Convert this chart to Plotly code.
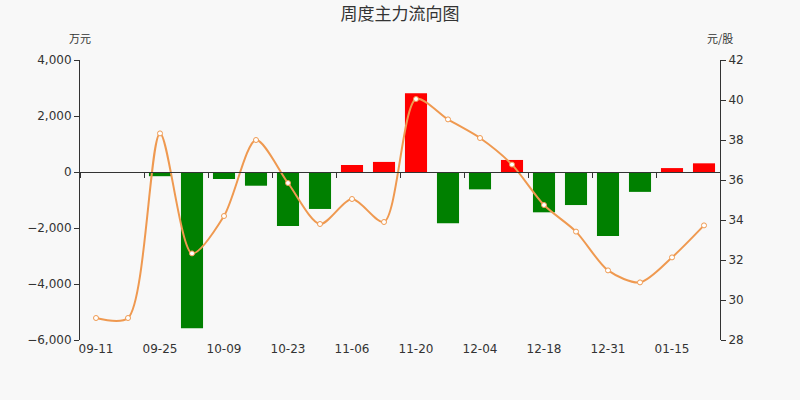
import plotly.graph_objects as go

# weekly main-force net flow (万元) and close price (元/股)
weeks = ["09-11", "09-18", "09-25", "10-02", "10-09", "10-16", "10-23", "10-30",
         "11-06", "11-13", "11-20", "11-27", "12-04", "12-11", "12-18", "12-25",
         "12-31", "01-08", "01-15", "01-22"]
net_flow = [0, 0, -150, -5580, -250, -490, -1930, -1320,
            250, 360, 2810, -1830, -620, 430, -1440, -1180,
            -2290, -710, 140, 310]
price = [29.1, 29.1, 38.33, 32.33, 34.2, 38.0, 35.85, 33.8,
         35.05, 33.9, 40.05, 39.03, 38.1, 36.77, 34.75, 33.42,
         31.48, 30.88, 32.13, 33.73]

x = list(range(len(weeks)))
bar_colors = ["#FF0000" if v > 0 else "#008000" for v in net_flow]
font = "DejaVu Sans, sans-serif"
cjk = "Noto Sans CJK SC, " + font
txt = "#333333"

fig = go.Figure()

fig.add_trace(go.Bar(x=x, y=net_flow, marker=dict(color=bar_colors, line=dict(width=0)),
                     name="主力净流入", yaxis="y"))

fig.add_trace(go.Scatter(x=x, y=price, mode="lines+markers", yaxis="y2", name="股价",
                         line=dict(color="#EF9950", width=2, shape="spline", smoothing=0.8),
                         marker=dict(size=5, color="#FFFFFF", line=dict(color="#EF9950", width=1))))

# invisible trace on xaxis2 so the zero-line axis gets drawn
fig.add_trace(go.Scatter(x=x, y=net_flow, xaxis="x2", yaxis="y", mode="none",
                         showlegend=False, hoverinfo="skip"))

fig.update_layout(
    width=800, height=400,
    paper_bgcolor="#F8F8F8", plot_bgcolor="#F8F8F8",
    margin=dict(l=80, r=80, t=60, b=60),
    showlegend=False,
    bargap=0.31,
    font=dict(family=font, size=12, color=txt),
    title=dict(text="周度主力流向图", x=0.5, xanchor="center", y=0.965, yanchor="middle",
               font=dict(family=cjk, size=17, color=txt)),
    xaxis=dict(range=[-0.5, len(weeks) - 0.5], tickvals=x[::2], ticktext=weeks[::2],
               ticks="", showline=False, showgrid=False, zeroline=False,
               tickfont=dict(size=12, color=txt)),
    xaxis2=dict(range=[-0.5, len(weeks) - 0.5], overlaying="x", anchor="free", position=0.6,
                showticklabels=False, showline=True, linecolor=txt, linewidth=1,
                showgrid=False, zeroline=False, ticks="outside", tick0=-0.5, dtick=2,
                ticklen=5, tickcolor=txt),
    yaxis=dict(range=[-6000, 4000], dtick=2000, tickformat=",d", showgrid=False,
               zeroline=False, showline=True, linecolor=txt, linewidth=1,
               ticks="outside", ticklen=5, tickcolor=txt, tickfont=dict(size=12, color=txt)),
    yaxis2=dict(range=[28, 42], dtick=2, overlaying="y", side="right", showgrid=False,
                zeroline=False, showline=True, linecolor=txt, linewidth=1,
                ticks="outside", ticklen=5, tickcolor=txt, tickfont=dict(size=12, color=txt)),
)

fig.add_annotation(text="万元", xref="paper", yref="paper", x=0, y=1.0, yshift=22,
                   showarrow=False, xanchor="center", yanchor="middle",
                   font=dict(family=cjk, size=11, color=txt))
fig.add_annotation(text="元/股", xref="paper", yref="paper", x=1, y=1.0, yshift=22,
                   showarrow=False, xanchor="center", yanchor="middle",
                   font=dict(family=cjk, size=11, color=txt))

fig.write_html("out.html", config={"displayModeBar": False},
               post_script="document.body.style.margin='0';")
